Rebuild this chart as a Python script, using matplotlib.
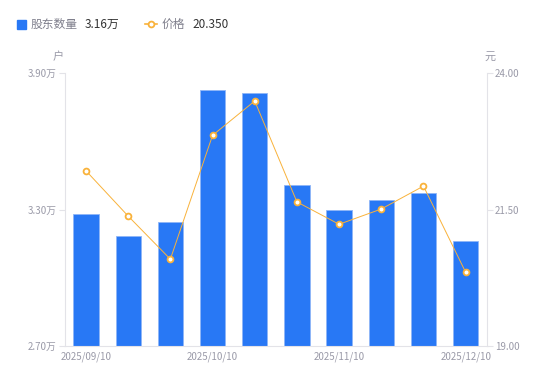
import matplotlib
matplotlib.use("Agg")
import matplotlib.pyplot as plt
from matplotlib.lines import Line2D

plt.rcParams['font.family'] = ['Noto Sans CJK SC', 'DejaVu Sans']

dates = ["2025/09/10", "2025/09/19", "2025/09/30", "2025/10/10", "2025/10/20",
         "2025/10/31", "2025/11/10", "2025/11/20", "2025/11/28", "2025/12/10"]
holders = [3.28, 3.184, 3.245, 3.825, 3.812, 3.408, 3.298, 3.342, 3.372, 3.16]  # 万户
price = [22.21, 21.38, 20.59, 22.86, 23.49, 21.64, 21.23, 21.51, 21.93, 20.35]
left_ticks = [2.70, 3.30, 3.90]
right_ticks = [19.00, 21.50, 24.00]

blue = "#2878f5"
orange = "#f9b23a"
grey_txt = "#9a9aa8"
axis_c = "#e3e3e8"

fig = plt.figure(figsize=(5.5, 3.81), dpi=100)
ax = fig.add_axes([0.118, 0.092, 0.767, 0.716])
x = list(range(len(dates)))
ax.bar(x, holders, width=0.6, color=blue, edgecolor="#8fb6f7", linewidth=0.6, zorder=2)
ax.set_ylim(2.70, 3.90)
ax.set_xlim(-0.5, len(dates) - 0.5)
ax.set_yticks(left_ticks)
ax.set_yticklabels([f"{v:.2f}万" for v in left_ticks])
ax.set_xticks([0, 3, 6, 9])
ax.set_xticklabels([dates[i] for i in [0, 3, 6, 9]])

ax2 = ax.twinx()
ax2.plot(x, price, color=orange, linewidth=0.7, marker="o", markersize=4.2,
         markerfacecolor="white", markeredgecolor=orange, markeredgewidth=1.3, zorder=3)
ax2.set_ylim(19.0, 24.0)
ax2.set_yticks(right_ticks)
ax2.set_yticklabels([f"{v:.2f}" for v in right_ticks])

for a in (ax, ax2):
    for s in a.spines.values():
        s.set_visible(False)
    a.tick_params(colors=axis_c, labelcolor=grey_txt, labelsize=7, length=4, width=0.8)
ax.spines['left'].set_visible(True)
ax.spines['left'].set_color(axis_c)
ax.spines['bottom'].set_visible(True)
ax.spines['bottom'].set_color(axis_c)
ax2.spines['right'].set_visible(True)
ax2.spines['right'].set_color(axis_c)
ax.tick_params(axis='x', length=0, pad=4)
ax.tick_params(axis='y', pad=2)
ax2.tick_params(axis='y', pad=2)

fig.text(58 / 550, 1 - 57 / 381, "户", color=grey_txt, fontsize=8, ha="center", va="center")
fig.text(490 / 550, 1 - 57 / 381, "元", color=grey_txt, fontsize=8, ha="center", va="center")

# legend
fig.patches.append(plt.Rectangle((17 / 550, 1 - 29 / 381), 9 / 550, 9 / 381,
                                 transform=fig.transFigure, color=blue, figure=fig))
fig.text(31 / 550, 1 - 24 / 381, "股东数量", color="#7f7f8c", fontsize=8.5, va="center")
fig.text(85 / 550, 1 - 24 / 381, f"{holders[-1]:.2f}万", color="#333333", fontsize=8.5, va="center")
fig.lines.append(Line2D([145 / 550, 157 / 550], [1 - 24 / 381] * 2, transform=fig.transFigure,
                        color=orange, linewidth=1.2))
fig.lines.append(Line2D([151 / 550], [1 - 24 / 381], transform=fig.transFigure, color=orange,
                        marker="o", markersize=4.2, markerfacecolor="white", markeredgewidth=1.3))
fig.text(162 / 550, 1 - 24 / 381, "价格", color="#7f7f8c", fontsize=8.5, va="center")
fig.text(192 / 550, 1 - 24 / 381, f"{price[-1]:.3f}", color="#333333", fontsize=8.5, va="center")

fig.savefig("out.png", dpi=100)
